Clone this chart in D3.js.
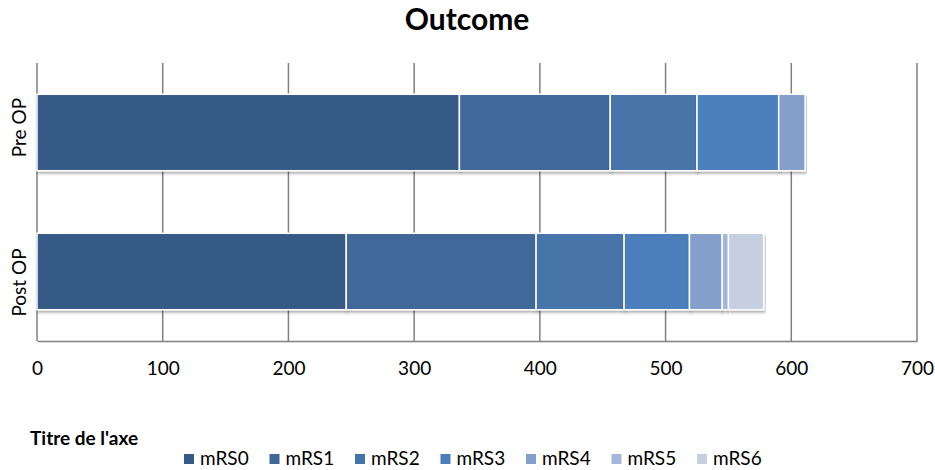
<!DOCTYPE html>
<html>
<head>
<meta charset="utf-8">
<script src="https://cdn.jsdelivr.net/npm/d3@7"></script>
<style>
  body { margin: 0; background: #fff; }
  text { font-family: Lato, "Open Sans", sans-serif; }
</style>
</head>
<body>
<div id="chart"></div>
<script>
// categories (top to bottom) and series
const categories = ['Pre OP', 'Post OP'];
const seriesNames = ['mRS0', 'mRS1', 'mRS2', 'mRS3', 'mRS4', 'mRS5', 'mRS6'];
const preOp = [336, 120, 69, 65, 21, 0, 0];
const postOp = [246, 151, 70, 52, 26, 5, 28];
const xTicks = [0, 100, 200, 300, 400, 500, 600, 700];
const colors = ['#365a85', '#3f6899', '#4674aa', '#4c7fbc', '#839fca', '#a6b6da', '#c6cee2'];

const width = 935, height = 470;
const margin = {top: 63, right: 18, bottom: 129, left: 37};

const svg = d3.select('#chart')
  .append('svg')
  .attr('width', width)
  .attr('height', height);

// drop shadow for bars
const defs = svg.append('defs');
defs.append('filter')
  .attr('id', 'shadow')
  .attr('x', '-5%').attr('y', '-10%')
  .attr('width', '110%').attr('height', '130%')
  .append('feDropShadow')
  .attr('dx', 1).attr('dy', 2)
  .attr('stdDeviation', 1.5)
  .attr('flood-color', '#000')
  .attr('flood-opacity', 0.35);

const x = d3.scaleLinear()
  .domain([0, 700])
  .range([margin.left, width - margin.right]);

const y = d3.scaleBand()
  .domain(categories)
  .range([margin.top, height - margin.bottom])
  .paddingInner(0.45)
  .paddingOuter(0.225);

// title
svg.append('text')
  .attr('x', 467)
  .attr('y', 30)
  .attr('text-anchor', 'middle')
  .style('font-size', '30px')
  .style('font-weight', 'bold')
  .attr('fill', '#000')
  .text('Outcome');

// gridlines
svg.append('g')
  .selectAll('line')
  .data(xTicks)
  .enter()
  .append('line')
  .attr('x1', d => x(d)).attr('x2', d => x(d))
  .attr('y1', margin.top).attr('y2', height - margin.bottom)
  .attr('stroke', '#808080')
  .attr('stroke-width', 1.5);

// bottom axis
const xAxis = svg.append('g')
  .attr('transform', `translate(0, ${height - margin.bottom})`)
  .call(d3.axisBottom(x).tickValues(xTicks).tickSize(0).tickPadding(21));
xAxis.select('.domain').attr('stroke', '#808080').attr('stroke-width', 1.5);
xAxis.selectAll('text')
  .style('font-size', '19px')
  .style('font-family', 'Lato, "Open Sans", sans-serif')
  .attr('fill', '#000');

// stacked data
const rows = categories.map((c, i) => {
  const vals = i === 0 ? preOp : postOp;
  const o = {cat: c};
  seriesNames.forEach((s, j) => { o[s] = vals[j]; });
  return o;
});
const stacked = d3.stack().keys(seriesNames)(rows);

const barGroups = svg.append('g')
  .selectAll('g')
  .data(stacked)
  .enter()
  .append('g')
  .attr('fill', (d, i) => colors[i]);

barGroups.selectAll('rect')
  .data(d => d.filter(p => p[1] > p[0]))
  .enter()
  .append('rect')
  .attr('x', d => x(d[0]))
  .attr('y', d => y(d.data.cat))
  .attr('width', d => x(d[1]) - x(d[0]))
  .attr('height', y.bandwidth())
  .attr('stroke', '#fff')
  .attr('stroke-width', 1.5)
  .attr('filter', 'url(#shadow)');

// category labels (rotated)
svg.append('g')
  .selectAll('text')
  .data(categories)
  .enter()
  .append('text')
  .attr('transform', (d, i) => `translate(26, ${y(d) + y.bandwidth() / 2 + (i === 0 ? -5 : 11)}) rotate(-90)`)
  .attr('text-anchor', 'middle')
  .style('font-size', '19px')
  .attr('fill', '#000')
  .text(d => d);

// axis title
svg.append('text')
  .attr('x', 30)
  .attr('y', 445)
  .style('font-size', '19px')
  .style('font-weight', 'bold')
  .attr('fill', '#000')
  .text("Titre de l'axe");

// legend
const legend = svg.append('g')
  .selectAll('g')
  .data(seriesNames)
  .enter()
  .append('g')
  .attr('transform', (d, i) => `translate(${184 + i * 85.5}, 465)`);

legend.append('rect')
  .attr('x', 0).attr('y', -11)
  .attr('width', 10).attr('height', 10)
  .attr('fill', (d, i) => colors[i]);

legend.append('text')
  .attr('x', 16)
  .attr('y', 0)
  .style('font-size', '19px')
  .attr('fill', '#000')
  .text(d => d);
</script>
</body>
</html>
